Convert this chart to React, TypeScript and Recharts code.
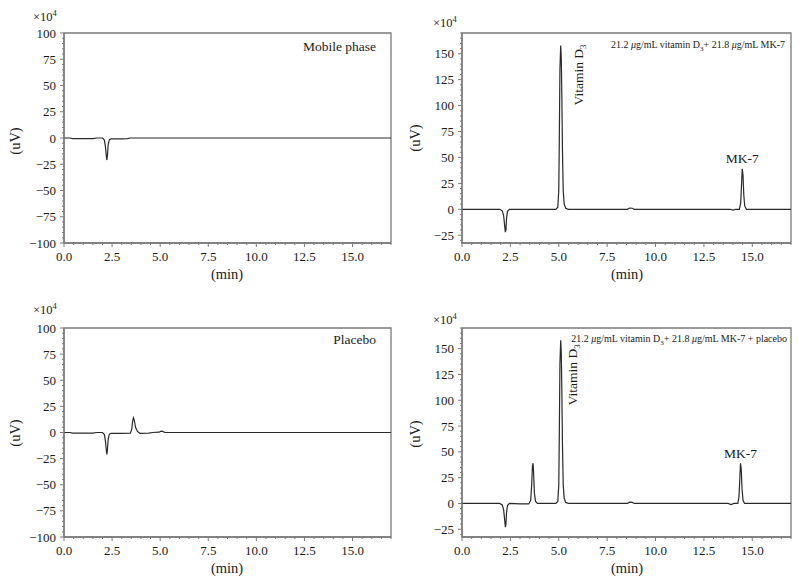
import { LineChart, Line, XAxis, YAxis, ReferenceArea, ReferenceDot } from 'recharts';

const FONT = '"Liberation Serif", "DejaVu Serif", serif';
const AXIS = '#7a7a7a';
const TRACE = '#2a2a2a';
const INK = '#1a1a1a';

// axis ticks
const timeTicks = [0, 2.5, 5, 7.5, 10, 12.5, 15];
const fullTicks = [-100, -75, -50, -25, 0, 25, 50, 75, 100];
const tallTicks = [-25, 0, 25, 50, 75, 100, 125, 150];
const timeDomain = [0, 17];
const fullDomain = [-100, 100];
const tallDomain = [-32.5, 170];

// mobile phase blank
const mobileTime = [0, 0.3, 0.45, 1.5, 1.7, 2.0, 2.1, 2.16, 2.2, 2.23, 2.26, 2.3, 2.36, 2.45, 3.0, 3.3, 3.45, 17];
const mobileSignal = [0, 0, -0.6, -0.6, 0, 0, -2, -9, -17, -21, -16, -6, -1.5, -0.8, -0.8, -0.6, 0, 0];

// standard: vitamin D3 + MK-7
const stdTime = [0, 1.95, 2.08, 2.15, 2.2, 2.24, 2.27, 2.3, 2.35, 2.45, 4.85, 4.95, 5.0, 5.03, 5.06, 5.1, 5.13, 5.16, 5.19, 5.23, 5.28, 5.36, 5.5, 8.55, 8.65, 8.8, 8.9, 13.85, 14.0, 14.15, 14.33, 14.4, 14.44, 14.48, 14.52, 14.56, 14.61, 14.7, 17];
const stdSignal = [0, 0, -1.5, -6, -15, -22, -20, -9, -2, 0, 0, 2, 18, 70, 135, 158, 146, 108, 58, 18, 5, 1, 0, 0, 1.2, 1, 0, 0, -0.8, 0, 0, 6, 22, 39, 33, 14, 3, 0, 0];

// placebo
const placeboTime = [0, 0.3, 0.45, 1.5, 1.7, 2.0, 2.1, 2.16, 2.2, 2.23, 2.26, 2.3, 2.36, 2.45, 3.0, 3.45, 3.52, 3.57, 3.61, 3.65, 3.72, 3.82, 3.95, 4.4, 4.6, 4.95, 5.05, 5.12, 5.25, 17];
const placeboSignal = [0, 0, -0.6, -0.6, 0, 0, -2, -9, -17, -21, -16, -6, -1.5, -0.8, -0.8, -0.6, 3, 11, 14, 12, 5, 1, -0.8, -0.6, 0, 0.3, 1.2, 1, 0, 0];

// standard + placebo
const spikedTime = [0, 1.95, 2.08, 2.15, 2.2, 2.24, 2.27, 2.3, 2.35, 2.45, 3.0, 3.45, 3.55, 3.6, 3.64, 3.67, 3.7, 3.74, 3.8, 3.9, 4.85, 4.95, 5.0, 5.03, 5.06, 5.1, 5.13, 5.16, 5.19, 5.23, 5.28, 5.36, 5.5, 8.55, 8.65, 8.8, 8.9, 13.75, 13.9, 14.05, 14.25, 14.31, 14.35, 14.39, 14.43, 14.47, 14.52, 14.6, 17];
const spikedSignal = [0, 0, -1.5, -6, -15, -23, -20, -9, -2, 0, -0.5, -0.5, 3, 18, 36, 39, 30, 10, 2, 0, 0, 2, 18, 70, 135, 158, 146, 108, 58, 18, 5, 1, 0, 0, 1.2, 1, 0, 0, -1, 0, 0, 6, 22, 39, 33, 14, 3, 0, 0];

const xMinor = Array.from({ length: 35 }, (_, i) => i * 0.5);
const fullMinor = Array.from({ length: 41 }, (_, i) => -100 + i * 5);
const tallMinor = Array.from({ length: 41 }, (_, i) => -30 + i * 5);

const rows = (t: number[], v: number[]) => t.map((x, i) => ({ t: x, v: v[i] }));
const isMajor = (list: number[], v: number) => list.some((m) => Math.abs(m - v) < 1e-6);
const fmtY = (v: number) => (v < 0 ? '\u2212' + Math.abs(v) : String(v));

const XTick = ({ x, y, payload }: any) => {
  const major = isMajor(timeTicks, payload.value);
  return (
    <g>
      <line x1={x} x2={x} y1={y} y2={y + (major ? 4 : 2)} stroke={AXIS} />
      {major && (
        <text x={x} y={y + 18} textAnchor="middle" fontSize={13} fontFamily={FONT} fill={INK}>
          {payload.value.toFixed(1)}
        </text>
      )}
    </g>
  );
};

const makeYTick = (majors: number[]) => ({ x, y, payload }: any) => {
  const major = isMajor(majors, payload.value);
  return (
    <g>
      <line x1={x - (major ? 4 : 2)} x2={x} y1={y} y2={y} stroke={AXIS} />
      {major && (
        <text x={x - 8} y={y} dy="0.35em" textAnchor="end" fontSize={13} fontFamily={FONT} fill={INK}>
          {fmtY(payload.value)}
        </text>
      )}
    </g>
  );
};

const vitaminLabel = (dx: number, dy: number) => (p: any) => (
  <text
    transform={`translate(${p.cx + dx},${p.cy + dy}) rotate(-90)`}
    fontSize={13.5}
    fontFamily={FONT}
    fill={INK}
  >
    Vitamin D<tspan dy={3} fontSize={9}>3</tspan>
  </text>
);

const mkLabel = (dy: number) => (p: any) => (
  <text x={p.cx} y={p.cy + dy} textAnchor="middle" fontSize={13.5} fontFamily={FONT} fill={INK}>
    MK-7
  </text>
);

interface PanelProps {
  left: number;
  top: number;
  margin: { top: number; right: number; bottom: number; left: number };
  time: number[];
  signal: number[];
  yDomain: number[];
  yTicks: number[];
  yMinor: number[];
  peaks?: { vitamin: [number, number, number, number]; mk: [number, number, number] };
}

function Panel({ left, top, margin, time, signal, yDomain, yTicks, yMinor, peaks }: PanelProps) {
  return (
    <div style={{ position: 'absolute', left, top }}>
      <LineChart width={400} height={292} data={rows(time, signal)} margin={margin}>
        <XAxis
          dataKey="t"
          type="number"
          domain={timeDomain}
          ticks={xMinor}
          interval={0}
          allowDataOverflow
          height={30}
          tickSize={0}
          tickMargin={0}
          tickLine={false}
          axisLine={{ stroke: AXIS, strokeWidth: 1.3 }}
          tick={XTick}
        />
        <YAxis
          type="number"
          domain={yDomain}
          ticks={yMinor}
          interval={0}
          allowDataOverflow
          width={40}
          tickSize={0}
          tickMargin={0}
          tickLine={false}
          axisLine={{ stroke: AXIS, strokeWidth: 1.3 }}
          tick={makeYTick(yTicks)}
        />
        <ReferenceArea
          x1={timeDomain[0]}
          x2={timeDomain[1]}
          y1={yDomain[0]}
          y2={yDomain[1]}
          fill="none"
          stroke={AXIS}
          strokeWidth={1.3}
          ifOverflow="visible"
        />
        <Line
          dataKey="v"
          type="linear"
          stroke={TRACE}
          strokeWidth={1.2}
          dot={false}
          activeDot={false}
          isAnimationActive={false}
        />
        {peaks && (
          <ReferenceDot
            x={peaks.vitamin[0]}
            y={peaks.vitamin[1]}
            r={0}
            ifOverflow="visible"
            shape={vitaminLabel(peaks.vitamin[2], peaks.vitamin[3])}
          />
        )}
        {peaks && (
          <ReferenceDot
            x={peaks.mk[0]}
            y={peaks.mk[1]}
            r={0}
            ifOverflow="visible"
            shape={mkLabel(peaks.mk[2])}
          />
        )}
      </LineChart>
    </div>
  );
}

const Scale = ({ x, y }: { x: number; y: number }) => (
  <text x={x} y={y} fontSize={12.5} fontFamily={FONT} fill={INK}>
    ×10<tspan dy={-5} fontSize={8.5}>4</tspan>
  </text>
);

const UnitY = ({ x, y }: { x: number; y: number }) => (
  <text transform={`translate(${x},${y}) rotate(-90)`} textAnchor="middle" fontSize={14.5} fontFamily={FONT} fill={INK}>
    (uV)
  </text>
);

const UnitX = ({ x, y }: { x: number; y: number }) => (
  <text x={x} y={y} textAnchor="middle" fontSize={14.5} fontFamily={FONT} fill={INK}>
    (min)
  </text>
);

const Conc = ({ x, y, extra }: { x: number; y: number; extra?: string }) => (
  <text x={x} y={y} textAnchor="end" fontSize={10} fontFamily={FONT} fill={INK}>
    21.2 <tspan fontStyle="italic">μ</tspan>g/mL vitamin D<tspan dy={2.5} fontSize={7}>3</tspan>
    <tspan dy={-2.5}>+ 21.8 </tspan>
    <tspan fontStyle="italic">μ</tspan>g/mL MK-7{extra ?? ''}
  </text>
);

export default function App() {
  return (
    <div style={{ position: 'absolute', left: 0, top: 0, width: 799, height: 584, background: '#fff', fontFamily: FONT, overflow: 'hidden' }}>
      <Panel
        left={0}
        top={0}
        margin={{ top: 33, right: 9, bottom: 19, left: 24 }}
        time={mobileTime}
        signal={mobileSignal}
        yDomain={fullDomain}
        yTicks={fullTicks}
        yMinor={fullMinor}
      />
      <Panel
        left={400}
        top={0}
        margin={{ top: 33, right: 9, bottom: 19, left: 22 }}
        time={stdTime}
        signal={stdSignal}
        yDomain={tallDomain}
        yTicks={tallTicks}
        yMinor={tallMinor}
        peaks={{ vitamin: [5.1, 158, 22, 60], mk: [14.48, 39, -6] }}
      />
      <Panel
        left={0}
        top={292}
        margin={{ top: 36, right: 9, bottom: 17, left: 24 }}
        time={placeboTime}
        signal={placeboSignal}
        yDomain={fullDomain}
        yTicks={fullTicks}
        yMinor={fullMinor}
      />
      <Panel
        left={400}
        top={292}
        margin={{ top: 36, right: 9, bottom: 17, left: 22 }}
        time={spikedTime}
        signal={spikedSignal}
        yDomain={tallDomain}
        yTicks={tallTicks}
        yMinor={tallMinor}
        peaks={{ vitamin: [5.1, 158, 16, 65], mk: [14.39, 39, -5] }}
      />
      <svg width={799} height={584} style={{ position: 'absolute', left: 0, top: 0, pointerEvents: 'none' }}>
        <Scale x={33} y={21} />
        <Scale x={433} y={27} />
        <Scale x={33} y={314} />
        <Scale x={433} y={324} />
        <UnitY x={20} y={141} />
        <UnitY x={420} y={138} />
        <UnitY x={20} y={433} />
        <UnitY x={420} y={434} />
        <UnitX x={227} y={279} />
        <UnitX x={627} y={279} />
        <UnitX x={227} y={573} />
        <UnitX x={627} y={573} />
        <text x={376} y={51} textAnchor="end" fontSize={13.5} fontFamily={FONT} fill={INK}>
          Mobile phase
        </text>
        <text x={376} y={344} textAnchor="end" fontSize={13.5} fontFamily={FONT} fill={INK}>
          Placebo
        </text>
        <Conc x={785} y={48} />
        <Conc x={787} y={342} extra=" + placebo" />
      </svg>
    </div>
  );
}
